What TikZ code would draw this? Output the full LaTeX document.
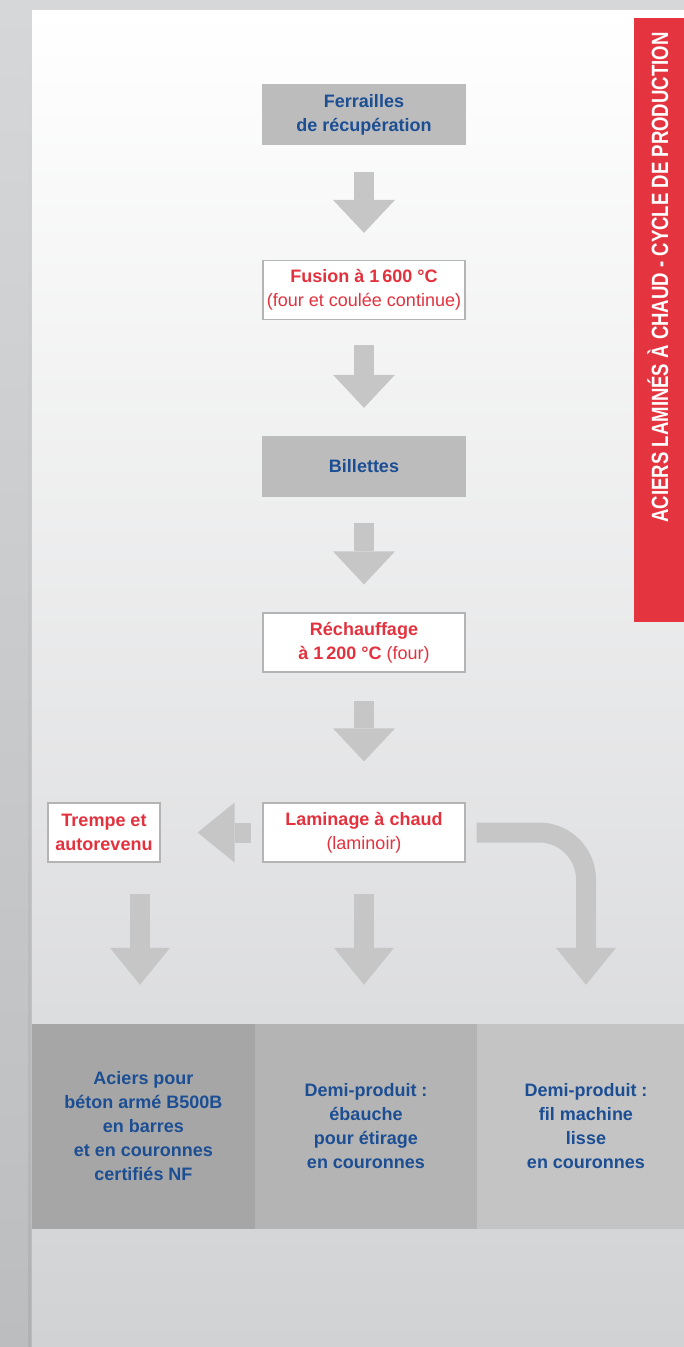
\documentclass[tikz,border=0pt]{standalone}
\usepackage{fontspec}
\setmainfont{Liberation Sans}
\newfontfamily\bannerfont{Liberation Sans}[FakeStretch=0.79]
\usetikzlibrary{arrows.meta,calc}
\definecolor{ablue}{RGB}{28,78,148}
\definecolor{ared}{RGB}{227,50,62}
\definecolor{bannerred}{RGB}{228,52,63}
\definecolor{boxgrey}{RGB}{188,188,188}
\definecolor{boxborder}{RGB}{180,180,180}
\definecolor{arrowgrey}{RGB}{198,198,198}
\definecolor{pone}{RGB}{166,166,166}
\definecolor{ptwo}{RGB}{180,180,180}
\definecolor{pthree}{RGB}{196,196,196}
\definecolor{bgband}{RGB}{214,215,217}
\definecolor{bgbottom}{RGB}{209,210,212}
\definecolor{stripbot}{RGB}{188,189,191}
\definecolor{stripline}{RGB}{176,177,179}
\tikzset{
  txt/.style={font=\fontsize{18}{24}\selectfont, align=center, inner sep=0pt},
  greybox/.style={txt, fill=boxgrey, text=ablue, font=\fontsize{18}{24}\selectfont\bfseries, minimum width=204pt, minimum height=61pt},
  whitebox/.style={txt, fill=white, draw=boxborder, line width=1.2pt, text=ared, minimum width=202pt, minimum height=59pt},
  prodbox/.style={txt, text=ablue, font=\fontsize{18}{24}\selectfont\bfseries, minimum height=205pt},
  bigarrow/.style={draw=arrowgrey, line width=20pt, -{Triangle[width=62pt,length=33pt,line width=0pt]}},
  lowarrow/.style={draw=arrowgrey, line width=20pt, -{Triangle[width=60pt,length=37pt,line width=0pt]}}
}
\begin{document}
\begin{tikzpicture}[x=1pt,y=-1pt]
\useasboundingbox (0,0) rectangle (684,1347);
% background
\fill[bgband] (0,0) rectangle (684,10);
\shade[top color=bgband, bottom color=stripbot] (0,0) rectangle (32,1347);
\shade[top color=bgband, bottom color=stripline] (28,10) rectangle (31,1347);
\shade[top color=white, bottom color=bgbottom] (32,10) rectangle (684,1347);
% banner
\node[fill=bannerred, minimum width=50pt, minimum height=604pt, inner sep=0pt] (banner) at (659,320) {};
\node[rotate=90, anchor=base, text=white, inner sep=0pt, font=\bannerfont\bfseries\fontsize{23.5}{28}\selectfont] (bannertext) at (668,277.5) {ACIERS LAMINÉS À CHAUD - CYCLE DE PRODUCTION};
% process boxes
\node[greybox] (ferr) at (364,114.5) {Ferrailles\\de récupération};
\node[whitebox] (fus) at (364,290) {{\bfseries Fusion à 1\,600 °C}\\(four et coulée continue)};
\node[greybox] (bil) at (364,466.5) {Billettes};
\node[whitebox] (rech) at (364,642.5) {{\bfseries Réchauffage}\\{\bfseries à 1\,200 °C} (four)};
\node[whitebox] (lam) at (364,832.5) {{\bfseries Laminage à chaud}\\(laminoir)};
\node[whitebox, minimum width=112pt, font=\fontsize{18}{24}\selectfont\bfseries] (trempe) at (104,832.5) {Trempe et\\autorevenu};
% products
\node[prodbox, fill=pone, minimum width=223pt] (prod1) at (143.5,1126.5) {Aciers pour\\béton armé B500B\\en barres\\et en couronnes\\certifiés NF};
\node[prodbox, fill=ptwo, minimum width=222pt] (prod2) at (366,1126.5) {Demi-produit :\\ébauche\\pour étirage\\en couronnes};
\node[prodbox, fill=pthree, minimum width=218pt] (prod3) at (586,1126.5) {Demi-produit :\\fil machine\\lisse\\en couronnes};
% arrows
\draw[bigarrow, shorten <=27pt, shorten >=27pt] (ferr.south) -- (fus.north);
\draw[bigarrow, shorten <=25pt, shorten >=28pt] (fus.south) -- (bil.north);
\draw[bigarrow, shorten <=26pt, shorten >=28pt] (bil.south) -- (rech.north);
\draw[bigarrow, shorten <=28pt, shorten >=41pt] (rech.south) -- (lam.north);
\draw[lowarrow, shorten <=11pt, shorten >=37pt] (lam.west) -- (trempe.east);
\draw[lowarrow, shorten <=31pt, shorten >=39pt] ([xshift=-3.5pt]trempe.south -| prod1.north) -- ([xshift=-3.5pt]prod1.north);
\draw[lowarrow, shorten <=31pt, shorten >=39pt] (lam.south) -- (lam.south |- prod2.north);
\draw[lowarrow, rounded corners=47pt, shorten <=11pt, shorten >=39pt] (lam.east) -| (prod3.north);
\end{tikzpicture}
\end{document}
